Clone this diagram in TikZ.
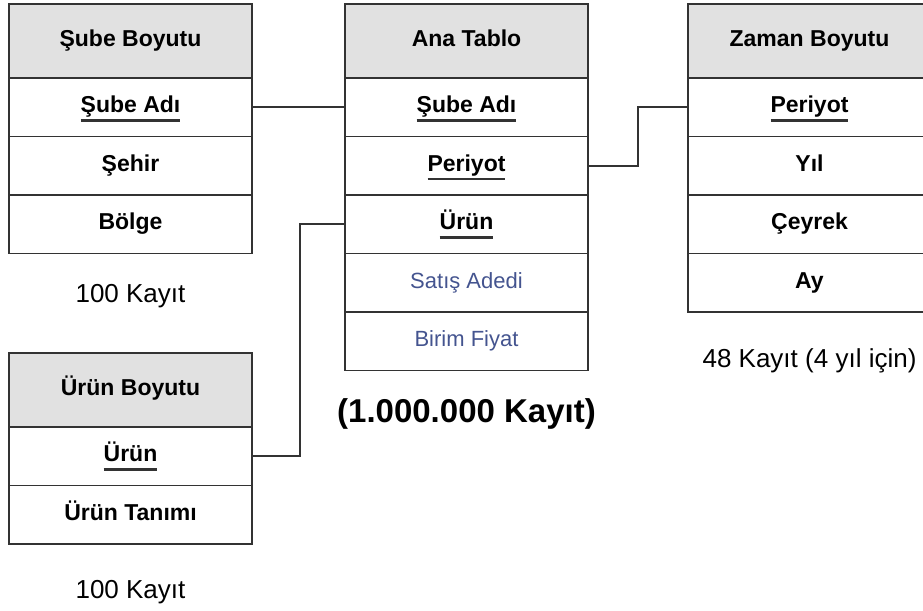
\documentclass[tikz,border=0pt]{standalone}
\usepackage{fontspec}
\setmainfont{Liberation Sans}
\usepackage{tikz}
\usetikzlibrary{positioning}
\usepackage{xcolor}

\definecolor{linegray}{HTML}{333333}
\definecolor{headgray}{HTML}{E1E1E1}
\definecolor{measureblue}{HTML}{44548F}

% key columns get a thick bar under them
\newcommand\keyfield[1]{\setbox0\hbox{#1}\rlap{\color{linegray}\rule[-9pt]{\wd0}{2.5pt}}\box0}

\begin{document}
\begin{tikzpicture}[x=1pt, y=1pt,
    table_head/.style={rectangle, draw=linegray, fill=headgray, line width=1.6pt,
        minimum width=243pt, minimum height=74pt, inner sep=0pt, outer sep=0pt,
        text height=16pt, text depth=5pt, font=\bfseries\fontsize{23}{27}\selectfont},
    table_row/.style={rectangle, draw=linegray, line width=1.6pt,
        minimum width=243pt, minimum height=58.5pt, inner sep=0pt, outer sep=0pt,
        text height=16pt, text depth=5pt, font=\bfseries\fontsize{23}{27}\selectfont},
    measure_row/.style={table_row, text=measureblue, font=\fontsize{22}{26}\selectfont},
    count_note/.style={inner sep=0pt, font=\fontsize{26}{30}\selectfont},
    link/.style={draw=linegray, line width=1.6pt}]

    \useasboundingbox (0,0) rectangle (923,-610);

    % Sube dimension
    \node[table_head, anchor=north west] (sube0) at (9,-4) {Şube Boyutu};
    \node[table_row, below=0pt of sube0] (sube1) {\keyfield{Şube Adı}};
    \node[table_row, below=0pt of sube1] (sube2) {Şehir};
    \node[table_row, below=0pt of sube2] (sube3) {Bölge};
    \node[count_note, below=31pt of sube3] (sube_count) {100 Kayıt};

    % Fact table
    \node[table_head, right=93pt of sube0] (ana0) {Ana Tablo};
    \node[table_row, below=0pt of ana0] (ana1) {\keyfield{Şube Adı}};
    \node[table_row, below=0pt of ana1] (ana2) {\keyfield{Periyot}};
    \node[table_row, below=0pt of ana2] (ana3) {\keyfield{Ürün}};
    \node[measure_row, below=0pt of ana3] (ana4) {Satış Adedi};
    \node[measure_row, below=0pt of ana4] (ana5) {Birim Fiyat};
    \node[count_note, below=28pt of ana5, font=\bfseries\fontsize{33}{38}\selectfont] (ana_count) {(1.000.000 Kayıt)};

    % Time dimension
    \node[table_head, right=100pt of ana0] (zaman0) {Zaman Boyutu};
    \node[table_row, below=0pt of zaman0] (zaman1) {\keyfield{Periyot}};
    \node[table_row, below=0pt of zaman1] (zaman2) {Yıl};
    \node[table_row, below=0pt of zaman2] (zaman3) {Çeyrek};
    \node[table_row, below=0pt of zaman3] (zaman4) {Ay};
    \node[count_note, below=36pt of zaman4] (zaman_count) {48 Kayıt (4 yıl için)};

    % Product dimension
    \node[table_head, below=99.5pt of sube3] (urun0) {Ürün Boyutu};
    \node[table_row, below=0pt of urun0] (urun1) {\keyfield{Ürün}};
    \node[table_row, below=0pt of urun1] (urun2) {Ürün Tanımı};
    \node[count_note, below=36pt of urun2] (urun_count) {100 Kayıt};

    % Links between keys
    \draw[link] (sube1) -- (ana1);
    \draw[link] (ana2.east) -- ++(50,0) |- (zaman1.west);
    \draw[link] (ana3.west) -- ++(-45,0) |- (urun1.east);

\end{tikzpicture}
\end{document}
